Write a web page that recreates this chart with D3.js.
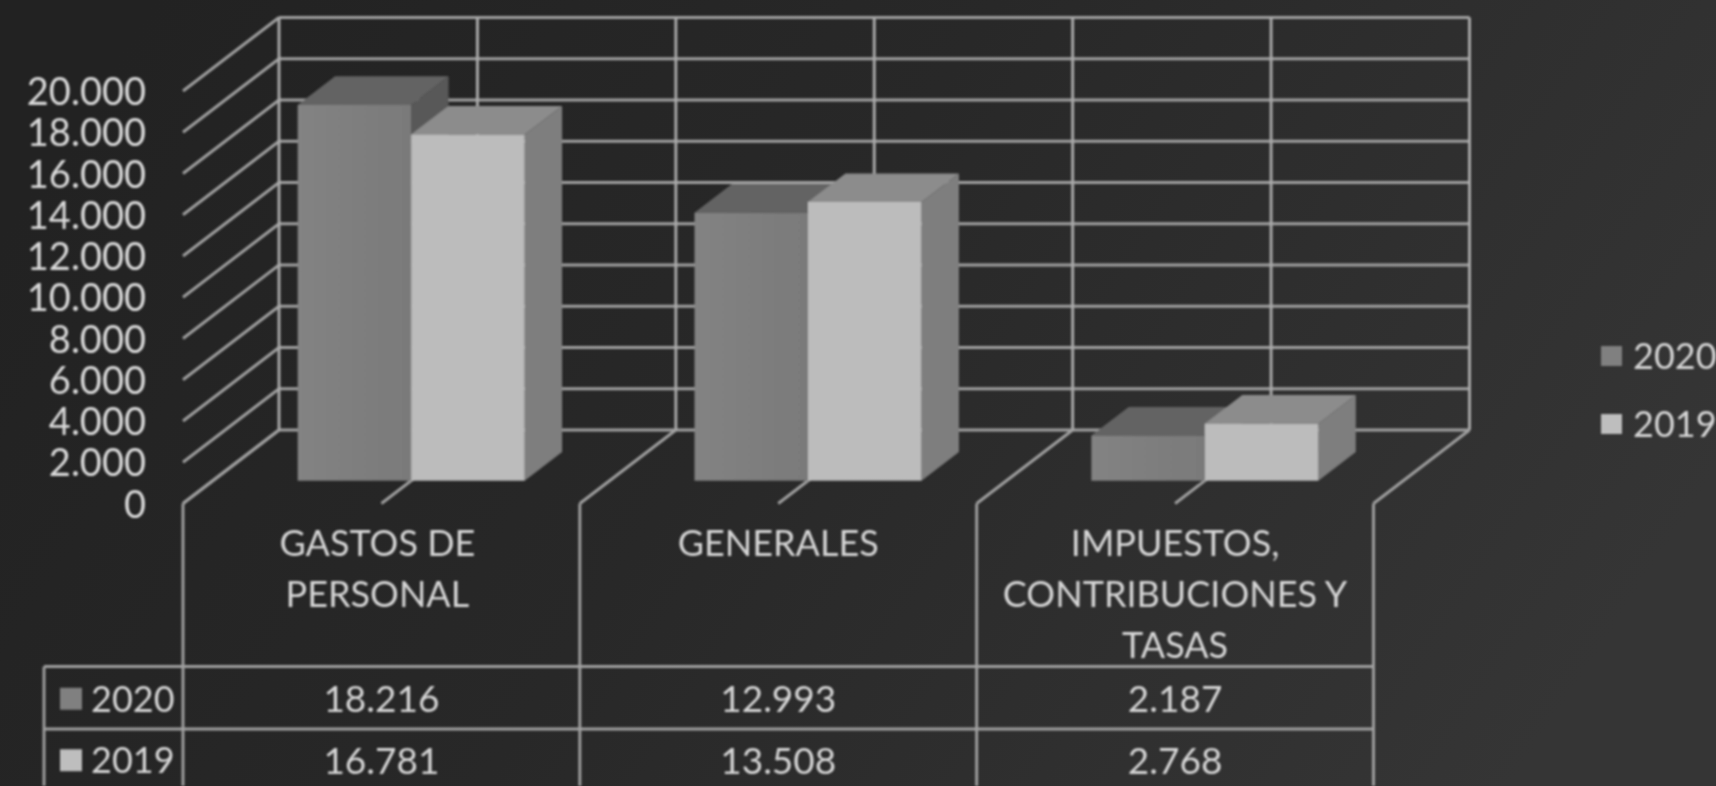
<!DOCTYPE html>
<html>
<head>
<meta charset="utf-8">
<script src="https://cdn.jsdelivr.net/npm/d3@7/dist/d3.min.js"></script>
<style>
html,body{margin:0;padding:0;background:#2a2a2a;overflow:hidden}
svg{display:block}
text{font-family:Lato,"Open Sans",sans-serif}
</style>
</head>
<body>
<svg id="chart" width="1716" height="786"></svg>
<script>
const categories = ["GASTOS DE PERSONAL", "GENERALES", "IMPUESTOS, CONTRIBUCIONES Y TASAS"];
const categoryLines = [["GASTOS DE", "PERSONAL"], ["GENERALES"], ["IMPUESTOS,", "CONTRIBUCIONES Y", "TASAS"]];
const seriesNames = ["2020", "2019"];
const values2020 = [18216, 12993, 2187];
const values2019 = [16781, 13508, 2768];
const yTicks = [0, 2000, 4000, 6000, 8000, 10000, 12000, 14000, 16000, 18000, 20000];

const W = 1716, H = 786;
const svg = d3.select("#chart");
const defs = svg.append("defs");

const bg = defs.append("linearGradient").attr("id", "bg").attr("x1", 0).attr("y1", 0.3).attr("x2", 1).attr("y2", 0.6);
bg.append("stop").attr("offset", 0).attr("stop-color", "#222222");
bg.append("stop").attr("offset", 0.45).attr("stop-color", "#282828");
bg.append("stop").attr("offset", 1).attr("stop-color", "#353535");
defs.append("filter").attr("id", "soft").attr("x", "-5%").attr("y", "-5%").attr("width", "110%").attr("height", "110%")
  .append("feGaussianBlur").attr("stdDeviation", 1.0);

const frontGrad = defs.append("linearGradient").attr("id", "front2020").attr("x1", 0).attr("y1", 0).attr("x2", 1).attr("y2", 0);
frontGrad.append("stop").attr("offset", 0).attr("stop-color", "#838383");
frontGrad.append("stop").attr("offset", 1).attr("stop-color", "#7a7a7a");

svg.append("rect").attr("width", W).attr("height", H).attr("fill", "url(#bg)");
const g = svg.append("g").attr("filter", "url(#soft)");

// scales: front plane of the 3D box
const x = d3.scaleBand().domain(categories).range([183, 1373.5]);
const y = d3.scaleLinear().domain([0, 20000]).range([503.5, 91]);
const series = d3.scaleBand().domain(seriesNames).range([-113.5, 113.5]);
const fmt = d3.formatLocale({decimal: ",", thousands: ".", grouping: [3], currency: ["", ""]}).format(",d");

// oblique projection: depth t 0 = front plane, 1 = back wall
const DX = 96, DY = -73.5;
const px = (X, t) => X + DX * t;
const py = (Y, t) => Y + DY * t;
const BAR_T0 = 0.31, BAR_T1 = 0.70;

const LINE = "#a0a0a0", LW = 2.9;
const line = (x1, y1, x2, y2, stroke = LINE, w = LW) => g.append("line")
  .attr("x1", x1).attr("y1", y1).attr("x2", x2).attr("y2", y2)
  .attr("stroke", stroke).attr("stroke-width", w);

const x0 = x.range()[0], x1 = x.range()[1];

// back wall horizontal lines and side wall diagonals
yTicks.forEach(v => {
  line(px(x0, 1), py(y(v), 1), px(x1, 1), py(y(v), 1));
  line(x0, y(v), px(x0, 1), py(y(v), 1));
});
// back wall verticals
const wallStops = d3.range(0, categories.length * 2 + 1).map(i => x0 + i * x.bandwidth() / 2);
wallStops.forEach(X => line(px(X, 1), py(y(20000), 1), px(X, 1), py(y(0), 1), "#aaaaaa"));
// floor diagonals
wallStops.forEach(X => line(X, y(0), px(X, 1), py(y(0), 1)));

// bars
const colors = {
  "2020": {front: "url(#front2020)", top: "#646464", side: "#585858", key: "#808080"},
  "2019": {front: "#bcbcbc", top: "#8c8c8c", side: "#7e7e7e", key: "#bebebe"}
};
const poly = (pts, fill) => g.append("polygon").attr("points", pts.map(p => p.join(",")).join(" ")).attr("fill", fill);

categories.forEach((c, i) => {
  const cx = x(c) + x.bandwidth() / 2;
  [[seriesNames[0], values2020[i]], [seriesNames[1], values2019[i]]].forEach(([s, v]) => {
    const col = colors[s];
    const l = cx + series(s), r = l + series.bandwidth();
    const yb = y(0), yt = y(v);
    const a = BAR_T0, b = BAR_T1;
    poly([[px(r, a), py(yb, a)], [px(r, b), py(yb, b)], [px(r, b), py(yt, b)], [px(r, a), py(yt, a)]], col.side);
    poly([[px(l, a), py(yt, a)], [px(l, b), py(yt, b)], [px(r, b), py(yt, b)], [px(r, a), py(yt, a)]], col.top);
    poly([[px(l, a), py(yb, a)], [px(r, a), py(yb, a)], [px(r, a), py(yt, a)], [px(l, a), py(yt, a)]], col.front);
  });
});

// value axis
const axisG = g.append("g").attr("transform", "translate(146,0)")
  .call(d3.axisLeft(y).tickValues(yTicks).tickSize(0).tickPadding(0).tickFormat(fmt));
axisG.select(".domain").remove();
axisG.selectAll("text").attr("fill", "#dadada").attr("font-size", 38).attr("dy", "0.36em")
  .style("font-family", "Lato");

// category labels
const TXT = "#d6d6d6";
categories.forEach((c, i) => {
  categoryLines[i].forEach((t, j) => {
    g.append("text").attr("x", x(c) + x.bandwidth() / 2 - (i === 0 ? 4 : 0)).attr("y", 556 + j * 51)
      .attr("text-anchor", "middle").attr("fill", TXT).attr("font-size", 36).text(t);
  });
});

// data table
const tableLeft = 44, rowTop = 666.5, rowH = 62.5;
d3.range(0, categories.length + 1).forEach(i => line(x0 + i * x.bandwidth(), y(0), x0 + i * x.bandwidth(), H));
line(tableLeft, rowTop, tableLeft, H);
[0, 1].forEach(r => line(tableLeft, rowTop + r * rowH, x1, rowTop + r * rowH));
const rowValues = [values2020, values2019];
seriesNames.forEach((s, r) => {
  const cy = rowTop + (r + 0.5) * rowH + (r ? 0 : 1);
  g.append("rect").attr("x", 60).attr("y", cy - 11).attr("width", 22).attr("height", 22).attr("fill", colors[s].key);
  g.append("text").attr("x", 91).attr("y", cy).attr("dy", "0.36em").attr("fill", TXT).attr("font-size", 36).text(s);
  categories.forEach((c, i) => {
    g.append("text").attr("x", x(c) + x.bandwidth() / 2).attr("y", cy).attr("dy", "0.36em")
      .attr("text-anchor", "middle").attr("fill", TXT).attr("font-size", 37).text(fmt(rowValues[r][i]));
  });
});

// legend
seriesNames.forEach((s, r) => {
  const cy = 356 + r * 68;
  g.append("rect").attr("x", 1601).attr("y", cy - 10).attr("width", 21).attr("height", 20).attr("fill", colors[s].key);
  g.append("text").attr("x", 1633).attr("y", cy).attr("dy", "0.36em").attr("fill", TXT).attr("font-size", 36).text(s);
});
</script>
</body>
</html>
